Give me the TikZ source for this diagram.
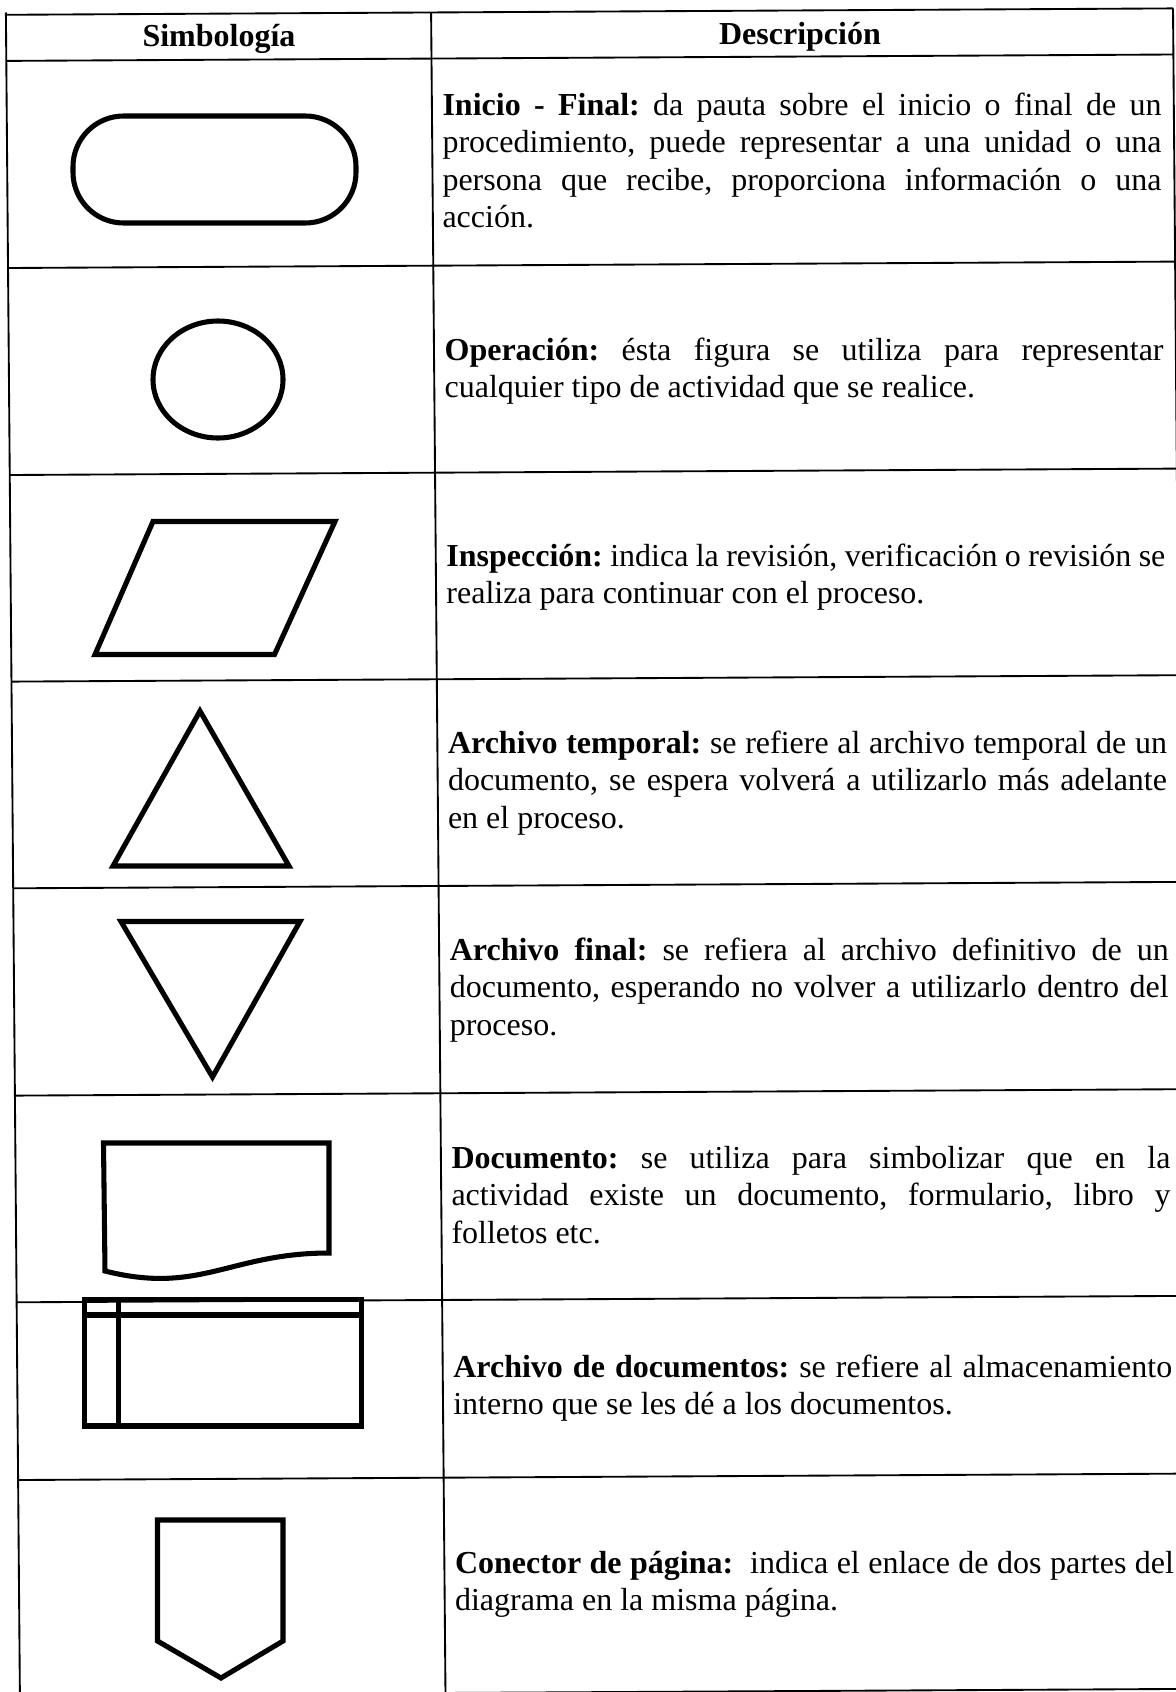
\documentclass[tikz,border=0pt]{standalone}
\usepackage{fontspec}
\setmainfont{Liberation Serif}
\tikzset{
	symbol table/.style={
		x=0.375pt,
		y=-0.375pt,
		font=\fontsize{12}{14.1}\selectfont,
		table rule/.style={line width=0.7pt},
		symbol/.style={
			line width=1.9pt,
			line join=miter
		},
		heading/.style={
			font=\fontsize{12}{14.1}\selectfont\bfseries,
			inner sep=0pt,
			anchor=base
		},
		description/.style={
			text width=269.6pt,
			align=justify,
			inner sep=0pt,
			anchor=base west,
			execute at begin node={\frenchspacing\hyphenpenalty=10000\emergencystretch=2em}
		}
	}
}

\begin{document}
\begin{tikzpicture}[symbol table]
		\useasboundingbox (0,0) rectangle (1176,1692);
		\fill[white] (0,0) rectangle (1176,1692);
		% rules (the scan is a little skewed)
		\draw[table rule] (5.9,14.8) -- (1173,8.4);
		\draw[table rule] (6.3,60.9) -- (1173.4,54.5);
		\draw[table rule] (8.0,268.0) -- (1175,261.6);
		\draw[table rule] (9.7,475.0) -- (1176.8,468.6);
		\draw[table rule] (11.5,681.6) -- (1178.5,675.2);
		\draw[table rule] (13.2,888.3) -- (1180,881.9);
		\draw[table rule] (14.9,1095.6) -- (1182,1089.2);
		\draw[table rule] (16.6,1302.3) -- (1183.5,1295.9);
		\draw[table rule] (18.1,1480.0) -- (1185,1473.6);
		\draw[table rule] (19.9,1695.3) -- (1186.5,1688.9);
		\draw[table rule] (5.9,12.5) -- (19.9,1695);
		\draw[table rule] (431.1,12.5) -- (445.5,1695);
		\draw[table rule] (1173,8.4) -- (1187,1695);
		% headings
		\node[heading] (simbologia) at (219,46) {Simbología};
		\node[heading] (descripcion) at (800,44) {Descripción};
		% symbols
		\draw[symbol,rounded corners=19pt] (73,116) rectangle (356,223);
		\draw[symbol] (218,379.5) ellipse [x radius=65, y radius=58.5];
		\draw[symbol] (153,521.5) -- (335,521.5) -- (274.5,654.5) -- (95,654.5) -- cycle;
		\draw[symbol] (200,711) -- (289,866) -- (113,866) -- cycle;
		\draw[symbol] (121,921.5) -- (300,921.5) -- (212.5,1077) -- cycle;
		\draw[symbol] (103.5,1143) -- (329,1143) -- (329,1253)
			.. controls (230,1253) and (200,1295) .. (105,1271) -- cycle;
		\draw[symbol] (84.5,1299.5) rectangle (361.5,1426);
		\draw[symbol] (84.5,1315) -- (361.5,1315);
		\draw[symbol] (118.5,1299.5) -- (118.5,1426);
		\draw[symbol] (157.5,1520) -- (283,1520) -- (283,1641) -- (221,1678) -- (157.5,1641) -- cycle;
		% descriptions
		\node[description] (inicio) at (442,115) {\textbf{Inicio - Final:} da pauta sobre el inicio o final de un\linebreak procedimiento, puede representar a una unidad o una\linebreak persona que recibe, proporciona información o una\linebreak acción.};
		\node[description] (operacion) at (444.1,360) {\textbf{Operación:} ésta figura se utiliza para representar\linebreak cualquier tipo de actividad que se realice.};
		\node[description] (inspeccion) at (445.9,566) {\textbf{Inspección:} indica la revisión, verificación o revisión se\linebreak realiza para continuar con el proceso.};
		\node[description] (temporal) at (447.5,753) {\textbf{Archivo temporal:} se refiere al archivo temporal de un\linebreak documento, se espera volverá a utilizarlo más adelante\linebreak en el proceso.};
		\node[description] (final) at (449.3,960) {\textbf{Archivo final:} se refiera al archivo definitivo de un\linebreak documento, esperando no volver a utilizarlo dentro del\linebreak proceso.};
		\node[description] (documento) at (451,1168) {\textbf{Documento:} se utiliza para simbolizar que en la\linebreak actividad existe un documento, formulario, libro y\linebreak folletos etc.};
		\node[description] (archivo) at (452.8,1377) {\textbf{Archivo de documentos:} se refiere al almacenamiento\linebreak interno que se les dé a los documentos.};
		\node[description] (conector) at (454.5,1573) {\textbf{Conector de página:}\ \ indica el enlace de dos partes del\linebreak diagrama en la misma página.};
	\end{tikzpicture}
\end{document}
